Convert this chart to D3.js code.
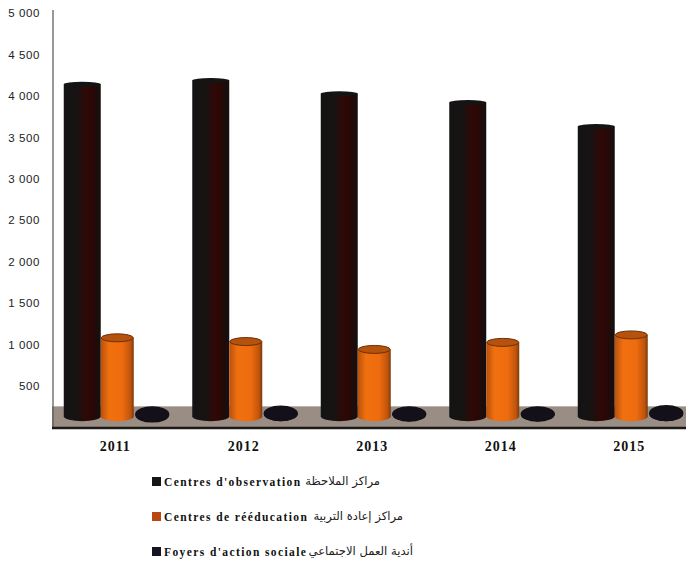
<!DOCTYPE html>
<html><head><meta charset="utf-8">
<script src="https://cdnjs.cloudflare.com/ajax/libs/d3/7.8.5/d3.min.js"></script>
<style>html,body{margin:0;padding:0;background:#fff}svg{display:block}</style>
</head><body><svg id="c" width="686" height="562"></svg>
<script>
const years = ["2011","2012","2013","2014","2015"];
const seriesNames = ["obs","reed","foyers"];
const observation = [4170,4215,4055,3950,3660];
const reeducation = [1130,1085,990,1075,1165];
const foyers = [240,265,250,250,270];
const tickValues = [500,1000,1500,2000,2500,3000,3500,4000,4500,5000];
const legendFr = ["Centres d'observation","Centres de rééducation","Foyers d'action sociale"];
const legendAr = ["مراكز الملاحظة","مراكز إعادة التربية","أندية العمل الاجتماعي"];
const values = [observation,reeducation,foyers];

const svg = d3.select("#c");
const y = d3.scaleLinear().domain([0,5000]).range([427.5,13]);
const x = d3.scaleBand().domain(years).range([53,695.5]);
const sub = d3.scaleBand().domain(seriesNames).range([-52.5,52.5]);
const floorBase = y(75);

const defs = svg.append("defs");
function grad(id,stops){
  const g = defs.append("linearGradient").attr("id",id);
  stops.forEach(s=>g.append("stop").attr("offset",s[0]).attr("stop-color",s[1]));
}
grad("g0",[[0,"#141414"],[.35,"#161212"],[.62,"#300806"],[.78,"#280806"],[1,"#121010"]]);
grad("g1",[[0,"#b8500c"],[.25,"#f0700f"],[.65,"#ee6c0e"],[.9,"#c0540c"],[1,"#7a3a0a"]]);
grad("g2",[[0,"#121212"],[.5,"#1c1024"],[1,"#121014"]]);
const fills = ["url(#g0)","url(#g1)","url(#g2)"];
const tops = ["#141414","#b4520e","#121014"];
const rims = ["none","#6e3008","none"];
const widths = [37,33,34];
const topRy = [2.5,4,7.5];

svg.append("rect").attr("x",52).attr("y",y(255)).attr("width",634).attr("height",y(0)-y(255)).attr("fill","#9a8e84");
svg.append("line").attr("x1",53).attr("x2",53).attr("y1",10).attr("y2",428).attr("stroke","#555").attr("stroke-width",1.2);
svg.append("line").attr("x1",52).attr("x2",686).attr("y1",428).attr("y2",428).attr("stroke","#1c1a16").attr("stroke-width",2.4);

const yAxis = d3.axisLeft(y).tickValues(tickValues).tickSize(0).tickPadding(0)
  .tickFormat(d=>d3.format(",")(d).replace(",", " "));
svg.append("g").attr("transform","translate(40,0)").call(yAxis)
  .call(g=>g.select(".domain").remove())
  .call(g=>g.selectAll("text").attr("font-family","Liberation Sans").attr("font-size",11.5).attr("fill","#222").style("letter-spacing","0.6px"));

const xAxis = d3.axisBottom(x).tickSize(0).tickPadding(0);
svg.append("g").attr("transform","translate(-2,441)").call(xAxis)
  .call(g=>g.select(".domain").remove())
  .call(g=>g.selectAll("text").attr("font-family","Liberation Serif").attr("font-weight","bold").attr("font-size",14).attr("fill","#111").style("letter-spacing","1px"));

values.forEach((vals,si)=>{
  const w = widths[si], rx = w/2, ry = topRy[si], by = si===2?7.5:5;
  const gs = svg.append("g").selectAll("g").data(years).join("g")
    .attr("transform",d=>`translate(${x(d)+x.bandwidth()/2+sub(seriesNames[si])+sub.bandwidth()/2},0)`);
  gs.append("path").attr("fill",fills[si]).attr("d",(d,i)=>{
    const t = y(vals[i])+ry, b = floorBase-by;
    return `M${-rx},${t}L${-rx},${b}A${rx},${by} 0 0 0 ${rx},${b}L${rx},${t}Z`;
  });
  gs.append("ellipse").attr("rx",si===1?rx-.5:rx).attr("ry",ry).attr("cy",(d,i)=>y(vals[i])+ry)
    .attr("fill",tops[si]).attr("stroke",rims[si]);
  if(si===2) gs.append("ellipse").attr("rx",rx).attr("ry",ry).attr("cy",floorBase-ry).attr("fill","#14101a");
});

const ly = [482,517,552];
const lg = svg.append("g").selectAll("g").data(legendFr).join("g");
lg.append("rect").attr("x",152).attr("y",(d,i)=>ly[i]-5).attr("width",9).attr("height",9)
  .attr("fill",(d,i)=>["#161616","#b8480f","#161420"][i]);
lg.append("text").text(d=>d).attr("x",164).attr("y",(d,i)=>ly[i]+4)
  .attr("font-family","Liberation Serif").attr("font-weight","bold").attr("font-size",11.5).attr("fill","#111").style("letter-spacing","1.4px");
lg.append("text").text((d,i)=>legendAr[i]).attr("y",(d,i)=>ly[i]+3)
  .attr("x",(d,i)=>[380,403,413][i]).attr("text-anchor","start").attr("direction","rtl")
  .attr("font-family","DejaVu Sans").attr("font-size",11.6).attr("fill","#222");
</script></body></html>
